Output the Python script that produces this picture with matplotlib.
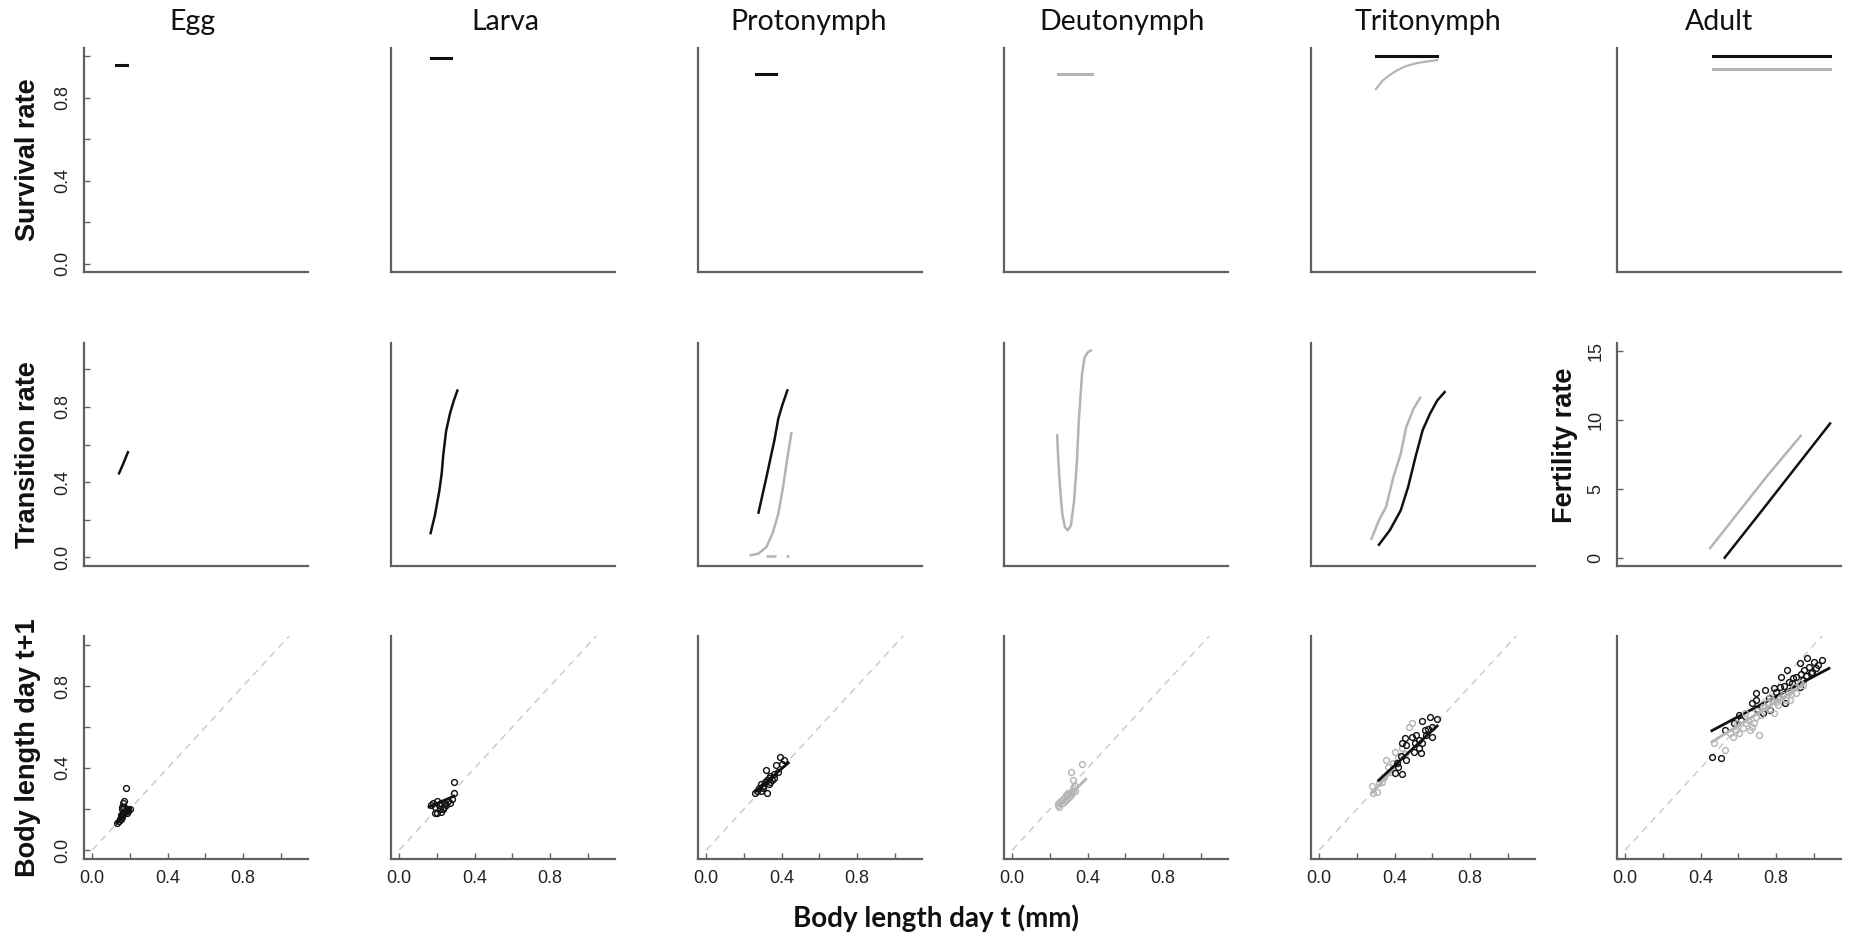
"""
Stage-specific vital rates vs body length: survival, transition / fertility
and growth (body length day t+1) for six life stages.
"""

import matplotlib
matplotlib.use("Agg")
import matplotlib.pyplot as plt

plt.rcParams["font.family"] = ["Liberation Sans", "DejaVu Sans"]

W, H = 1854, 939
BLACK = "#111111"
GREY = "#b4b4b4"
AXIS_COL = "#606060"

STAGES = ["Egg", "Larva", "Protonymph", "Deutonymph", "Tritonymph", "Adult"]
ROW_LABELS = ["Survival rate", "Transition rate", "Body length day t+1"]

# ─────────────────────────────────────────────────────────────────────────────
# Row 1 — survival (x = body length, y = rate)
# ─────────────────────────────────────────────────────────────────────────────
egg_surv_x = [0.126, 0.184]
egg_surv_y = [0.958, 0.958]
larva_surv_x = [0.168, 0.274]
larva_surv_y = [0.994, 0.994]
proto_surv_x = [0.263, 0.372]
proto_surv_y = [0.915, 0.915]
deuto_surv_x = [0.243, 0.425]
deuto_surv_y = [0.915, 0.915]
trito_surv_black_x = [0.30, 0.626]
trito_surv_black_y = [1.0, 1.0]
trito_surv_grey_x = [0.30, 0.335, 0.374, 0.412, 0.452, 0.49, 0.528, 0.58, 0.626]
trito_surv_grey_y = [0.842, 0.882, 0.91, 0.932, 0.95, 0.961, 0.969, 0.976, 0.982]
adult_surv_x = [0.463, 1.084]
adult_surv_black_y = [1.0, 1.0]
adult_surv_grey_y = [0.937, 0.937]

# ─────────────────────────────────────────────────────────────────────────────
# Row 2 — transition rates (adult: fertility)
# ─────────────────────────────────────────────────────────────────────────────
egg_trans_x = [0.142, 0.165, 0.189]
egg_trans_y = [0.447, 0.50, 0.559]
larva_trans_x = [0.166, 0.189, 0.212, 0.225, 0.233, 0.248, 0.269, 0.29, 0.308]
larva_trans_y = [0.129, 0.224, 0.352, 0.447, 0.543, 0.67, 0.766, 0.836, 0.887]
proto_trans_black_x = [0.277, 0.319, 0.361, 0.382, 0.403, 0.43]
proto_trans_black_y = [0.238, 0.427, 0.622, 0.738, 0.809, 0.888]
proto_trans_grey_x = [0.235, 0.277, 0.319, 0.351, 0.382, 0.407, 0.428, 0.451]
proto_trans_grey_y = [0.011, 0.02, 0.055, 0.126, 0.232, 0.374, 0.516, 0.661]
proto_trans_dash_x = [0.315, 0.441]
proto_trans_dash_y = [0.009, 0.009]
deuto_trans_x = [0.238, 0.244, 0.253, 0.265, 0.279, 0.294, 0.311, 0.328,
                 0.343, 0.353, 0.37, 0.384, 0.40, 0.416]
deuto_trans_y = [0.649, 0.516, 0.374, 0.232, 0.161, 0.144, 0.17, 0.303,
                 0.516, 0.729, 0.977, 1.065, 1.09, 1.10]
trito_trans_grey_x = [0.277, 0.316, 0.354, 0.393, 0.432, 0.461, 0.50, 0.535]
trito_trans_grey_y = [0.099, 0.197, 0.268, 0.427, 0.551, 0.693, 0.791, 0.849]
trito_trans_black_x = [0.316, 0.374, 0.432, 0.471, 0.51, 0.548, 0.587, 0.626, 0.665]
trito_trans_black_y = [0.067, 0.144, 0.25, 0.374, 0.533, 0.676, 0.764, 0.835, 0.879]
adult_fert_grey_x = [0.45, 0.60, 0.75, 0.93]
adult_fert_grey_y = [0.70, 3.3, 5.9, 8.85]
adult_fert_black_x = [0.527, 0.70, 0.90, 1.086]
adult_fert_black_y = [0.0, 3.0, 6.5, 9.75]

# ─────────────────────────────────────────────────────────────────────────────
# Row 3 — growth: observed points + fitted lines
# ─────────────────────────────────────────────────────────────────────────────
egg_pts_x = [0.13, 0.14, 0.145, 0.15, 0.15, 0.155, 0.16, 0.16, 0.165, 0.17, 0.17,
             0.175, 0.18, 0.18, 0.185, 0.19, 0.19, 0.20, 0.155, 0.165, 0.17, 0.185]
egg_pts_y = [0.13, 0.14, 0.15, 0.15, 0.17, 0.16, 0.17, 0.20, 0.18, 0.18, 0.24,
             0.19, 0.19, 0.30, 0.20, 0.19, 0.20, 0.20, 0.21, 0.23, 0.21, 0.18]
egg_fit_x = [0.13, 0.20]
egg_fit_y = [0.13, 0.195]

larva_pts_x = [0.17, 0.18, 0.19, 0.20, 0.20, 0.21, 0.22, 0.23, 0.24, 0.25,
               0.26, 0.27, 0.28, 0.29, 0.29, 0.19, 0.22, 0.215, 0.235]
larva_pts_y = [0.22, 0.23, 0.21, 0.24, 0.18, 0.22, 0.23, 0.20, 0.23, 0.22,
               0.24, 0.23, 0.25, 0.33, 0.28, 0.18, 0.185, 0.20, 0.21]
larva_fit_x = [0.158, 0.29]
larva_fit_y = [0.21, 0.263]

proto_pts_x = [0.26, 0.27, 0.28, 0.29, 0.29, 0.30, 0.31, 0.315, 0.32, 0.32, 0.33,
               0.33, 0.34, 0.34, 0.35, 0.36, 0.36, 0.37, 0.38, 0.39, 0.40, 0.41, 0.30]
proto_pts_y = [0.28, 0.29, 0.30, 0.32, 0.29, 0.31, 0.33, 0.39, 0.28, 0.34, 0.32,
               0.35, 0.33, 0.36, 0.34, 0.37, 0.35, 0.415, 0.38, 0.455, 0.42, 0.44, 0.30]
proto_fit_x = [0.26, 0.435]
proto_fit_y = [0.285, 0.425]

deuto_pts_x = [0.24, 0.25, 0.25, 0.26, 0.27, 0.27, 0.28, 0.28, 0.29, 0.29, 0.30,
               0.30, 0.31, 0.31, 0.32, 0.32, 0.33, 0.33, 0.31, 0.32, 0.37]
deuto_pts_y = [0.22, 0.23, 0.21, 0.24, 0.25, 0.23, 0.26, 0.24, 0.27, 0.25, 0.28,
               0.26, 0.28, 0.27, 0.29, 0.30, 0.29, 0.31, 0.38, 0.34, 0.42]
deuto_fit_x = [0.25, 0.39]
deuto_fit_y = [0.22, 0.345]

trito_grey_x = [0.286, 0.277, 0.306, 0.315, 0.345, 0.364, 0.393, 0.356, 0.49,
                0.475, 0.42, 0.373, 0.452, 0.403, 0.33, 0.44]
trito_grey_y = [0.277, 0.31, 0.284, 0.325, 0.357, 0.406, 0.423, 0.44, 0.618,
                0.60, 0.455, 0.382, 0.47, 0.48, 0.33, 0.50]
trito_grey_fit_x = [0.28, 0.42]
trito_grey_fit_y = [0.28, 0.42]
trito_black_x = [0.587, 0.626, 0.545, 0.60, 0.60, 0.558, 0.568, 0.528, 0.51, 0.452,
                 0.44, 0.46, 0.528, 0.54, 0.50, 0.432, 0.41, 0.42, 0.403, 0.44,
                 0.46, 0.49, 0.547, 0.575, 0.515]
trito_black_y = [0.65, 0.64, 0.63, 0.60, 0.553, 0.585, 0.561, 0.537, 0.52, 0.545,
                 0.523, 0.512, 0.496, 0.472, 0.48, 0.458, 0.423, 0.406, 0.374, 0.37,
                 0.44, 0.553, 0.52, 0.59, 0.56]
trito_black_fit_x = [0.315, 0.625]
trito_black_fit_y = [0.34, 0.605]

adult_grey_x = [0.469, 0.527, 0.556, 0.585, 0.595, 0.624, 0.653, 0.682, 0.711, 0.692,
                0.732, 0.751, 0.78, 0.81, 0.837, 0.866, 0.896, 0.925, 0.77, 0.634,
                0.605, 0.663, 0.789, 0.876, 0.906, 0.944, 0.70, 0.72, 0.74, 0.76,
                0.80, 0.82, 0.85, 0.88, 0.64, 0.67, 0.57]
adult_grey_y = [0.52, 0.488, 0.569, 0.585, 0.618, 0.593, 0.634, 0.618, 0.561, 0.65,
                0.699, 0.715, 0.732, 0.707, 0.756, 0.772, 0.797, 0.813, 0.748, 0.667,
                0.569, 0.585, 0.667, 0.732, 0.764, 0.805, 0.68, 0.66, 0.70, 0.69,
                0.72, 0.74, 0.73, 0.76, 0.62, 0.60, 0.55]
adult_grey_fit_x = [0.459, 0.944]
adult_grey_fit_y = [0.527, 0.805]
adult_black_x = [0.459, 0.508, 0.527, 0.692, 0.692, 0.70, 0.741, 0.789, 0.818, 0.857,
                 0.828, 0.925, 0.963, 0.975, 1.003, 1.041, 1.02, 0.906, 0.886, 0.925,
                 0.847, 0.77, 0.732, 0.81, 0.944, 0.983, 0.673, 0.614, 0.576, 0.605,
                 0.95, 0.99, 1.01, 0.93, 0.89, 0.87, 0.84, 0.80, 0.76, 0.96]
adult_black_y = [0.455, 0.447, 0.585, 0.764, 0.73, 0.69, 0.78, 0.789, 0.797, 0.878,
                 0.845, 0.91, 0.935, 0.894, 0.919, 0.927, 0.902, 0.845, 0.813, 0.797,
                 0.715, 0.683, 0.667, 0.748, 0.829, 0.862, 0.715, 0.634, 0.618, 0.659,
                 0.88, 0.87, 0.89, 0.86, 0.84, 0.82, 0.80, 0.77, 0.74, 0.85]
adult_black_fit_x = [0.459, 1.08]
adult_black_fit_y = [0.582, 0.886]

DIAG = [0.0, 1.1]

# ─────────────────────────────────────────────────────────────────────────────
# Layout (pixel boxes of each panel)
# ─────────────────────────────────────────────────────────────────────────────
COL_LEFT = [84, 391, 698, 1004, 1311, 1617]
COL_W = 224
ROW_TOP = [48, 343, 636]
ROW_BOT = [272, 566, 859]
XLIM = (-0.044, 1.144)
YLIMS = [(-0.04, 1.04), (-0.046, 1.14), (-0.044, 1.044)]

fig = plt.figure(figsize=(W / 100, H / 100), dpi=100)


def make_ax(r, c, ylim=None):
    left, top, bot = COL_LEFT[c], ROW_TOP[r], ROW_BOT[r]
    ax = fig.add_axes([left / W, 1 - bot / H, COL_W / W, (bot - top) / H])
    ax.set_xlim(*XLIM)
    ax.set_ylim(*(ylim or YLIMS[r]))
    for side in ("top", "right"):
        ax.spines[side].set_visible(False)
    for side in ("left", "bottom"):
        ax.spines[side].set_color(AXIS_COL)
        ax.spines[side].set_linewidth(1.6)
    ax.tick_params(direction="in", length=4, width=1, color=AXIS_COL,
                   labelcolor="#222222")
    ax.set_xticks([])
    ax.set_yticks([])
    return ax


def unit_ticks(ax, axis, size):
    ticks = [0.0, 0.2, 0.4, 0.6, 0.8, 1.0]
    labels = ["0.0", "", "0.4", "", "0.8", ""]
    if axis == "y":
        ax.set_yticks(ticks)
        ax.set_yticklabels(labels, rotation=90, va="center", fontsize=size)
        ax.tick_params(axis="y", pad=9)
    else:
        ax.set_xticks(ticks)
        ax.set_xticklabels(labels, fontsize=size)
        ax.tick_params(axis="x", pad=8)


axes = [[make_ax(r, c) for c in range(6)] for r in range(3)]
# adult row 2 is fertility with its own scale
axes[1][5].set_ylim(-0.6, 15.6)

for r in range(3):
    unit_ticks(axes[r][0], "y", 13)
for c in range(6):
    unit_ticks(axes[2][c], "x", 13)

fa = axes[1][5]
fa.set_yticks([0, 5, 10, 15])
fa.set_yticklabels(["0", "5", "10", "15"], rotation=90, va="center", fontsize=13)
fa.tick_params(axis="y", pad=9)

# ── Row 1: survival ──────────────────────────────────────────────────────────
LW_S = 2.2
a = axes[0]
a[0].plot(egg_surv_x, egg_surv_y, color=BLACK, lw=LW_S)
a[1].plot(larva_surv_x, larva_surv_y, color=BLACK, lw=LW_S)
a[2].plot(proto_surv_x, proto_surv_y, color=BLACK, lw=LW_S)
a[3].plot(deuto_surv_x, deuto_surv_y, color=GREY, lw=LW_S)
a[4].plot(trito_surv_black_x, trito_surv_black_y, color=BLACK, lw=LW_S)
a[4].plot(trito_surv_grey_x, trito_surv_grey_y, color=GREY, lw=1.6)
a[5].plot(adult_surv_x, adult_surv_black_y, color=BLACK, lw=LW_S)
a[5].plot(adult_surv_x, adult_surv_grey_y, color=GREY, lw=LW_S)

# ── Row 2: transition / fertility ────────────────────────────────────────────
LW_T = 1.8
a = axes[1]
a[0].plot(egg_trans_x, egg_trans_y, color=BLACK, lw=LW_T)
a[1].plot(larva_trans_x, larva_trans_y, color=BLACK, lw=LW_T)
a[2].plot(proto_trans_grey_x, proto_trans_grey_y, color=GREY, lw=LW_T)
a[2].plot(proto_trans_dash_x, proto_trans_dash_y, color=GREY, lw=LW_T,
          dashes=(4, 4))
a[2].plot(proto_trans_black_x, proto_trans_black_y, color=BLACK, lw=LW_T)
a[3].plot(deuto_trans_x, deuto_trans_y, color=GREY, lw=LW_T)
a[4].plot(trito_trans_grey_x, trito_trans_grey_y, color=GREY, lw=LW_T)
a[4].plot(trito_trans_black_x, trito_trans_black_y, color=BLACK, lw=LW_T)
a[5].plot(adult_fert_grey_x, adult_fert_grey_y, color=GREY, lw=LW_T)
a[5].plot(adult_fert_black_x, adult_fert_black_y, color=BLACK, lw=LW_T)

# ── Row 3: growth ────────────────────────────────────────────────────────────
PT = dict(marker="o", ls="none", ms=4.2, mfc="none", mew=1.0)
growth = [
    [(egg_pts_x, egg_pts_y, egg_fit_x, egg_fit_y, BLACK)],
    [(larva_pts_x, larva_pts_y, larva_fit_x, larva_fit_y, BLACK)],
    [(proto_pts_x, proto_pts_y, proto_fit_x, proto_fit_y, BLACK)],
    [(deuto_pts_x, deuto_pts_y, deuto_fit_x, deuto_fit_y, GREY)],
    [(trito_grey_x, trito_grey_y, trito_grey_fit_x, trito_grey_fit_y, GREY),
     (trito_black_x, trito_black_y, trito_black_fit_x, trito_black_fit_y, BLACK)],
    [(adult_black_x, adult_black_y, adult_black_fit_x, adult_black_fit_y, BLACK),
     (adult_grey_x, adult_grey_y, adult_grey_fit_x, adult_grey_fit_y, GREY)],
]
for c, groups in enumerate(growth):
    ax = axes[2][c]
    ax.plot(DIAG, DIAG, color="#c8c8c8", lw=1.0, dashes=(5, 4))
    for px, py, fx, fy, col in groups:
        ax.plot(px, py, mec=col, **PT)
        ax.plot(fx, fy, color=col, lw=2.0)

# ── Text ─────────────────────────────────────────────────────────────────────
title_x = [193, 505, 809, 1122, 1428, 1719]
for name, x in zip(STAGES, title_x):
    fig.text(x / W, 1 - 22 / H, name, ha="center", va="center",
             fontsize=20.5, family=["Lato", "DejaVu Sans"], color="#111111")

row_y = [160, 455, 748]
for lab, y in zip(ROW_LABELS, row_y):
    fig.text(28 / W, 1 - y / H, lab, rotation=90, ha="center", va="center",
             fontsize=19.5, fontweight="bold", color="#111111")
fig.text(1565 / W, 1 - 445 / H, "Fertility rate", rotation=90, ha="center",
         va="center", fontsize=19.5, fontweight="bold", color="#111111")

fig.text(936 / W, 1 - 918 / H, "Body length day t (mm)", ha="center",
         va="center", fontsize=20, fontweight="bold",
         family=["Lato", "DejaVu Sans"], color="#111111")

fig.savefig("out.png", dpi=100)
plt.close(fig)
